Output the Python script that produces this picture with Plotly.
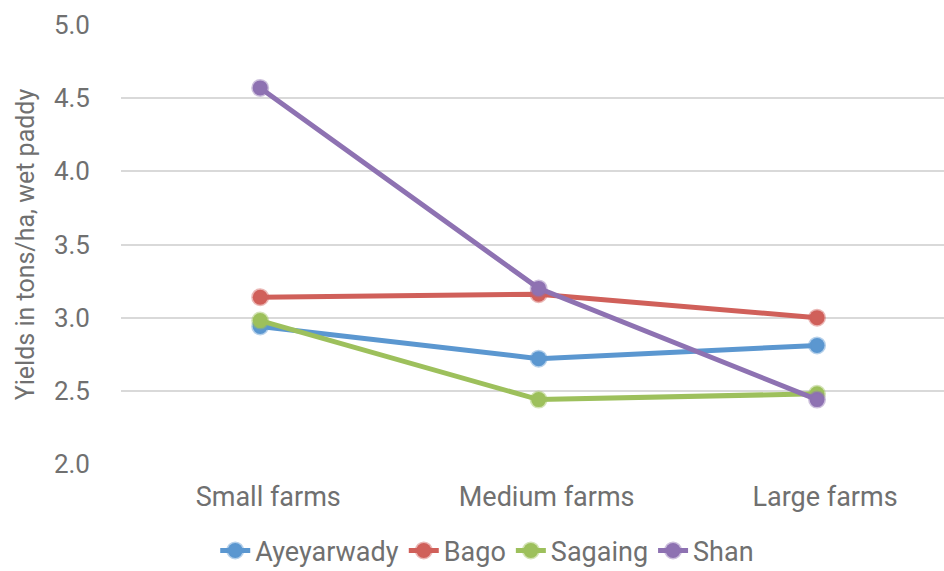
import plotly.graph_objects as go

categories = ["Small farms", "Medium farms", "Large farms"]
regions = ["Ayeyarwady", "Bago", "Sagaing", "Shan"]
ayeyarwady = [2.94, 2.72, 2.81]
bago = [3.14, 3.16, 3.00]
sagaing = [2.98, 2.44, 2.48]
shan = [4.57, 3.20, 2.44]
y_ticks = [2.0, 2.5, 3.0, 3.5, 4.0, 4.5, 5.0]

series = [ayeyarwady, bago, sagaing, shan]
colors = ["#5b97d0", "#d0605a", "#9dc05c", "#8e72b2"]
halos = ["rgba(91,151,208,0.45)", "rgba(208,96,90,0.45)",
         "rgba(157,192,92,0.45)", "rgba(142,114,178,0.45)"]

FONT = "Roboto"
GREY = "#707070"

fig = go.Figure()
for name, vals, col, halo in zip(regions, series, colors, halos):
    fig.add_trace(go.Scatter(
        x=categories, y=vals, name=name, mode="lines+markers",
        line=dict(color=col, width=5),
        marker=dict(symbol="circle", size=15, color=col,
                    line=dict(color=halo, width=3)),
        cliponaxis=False,
    ))

fig.update_layout(
    width=944, height=571,
    margin=dict(l=121, r=0, t=25, b=107, autoexpand=False),
    paper_bgcolor="white", plot_bgcolor="white",
    font=dict(family=FONT, color=GREY, size=26),
    showlegend=True,
    legend=dict(orientation="h", x=0.445, xanchor="center",
                y=-0.198, yanchor="middle",
                font=dict(size=27, color=GREY),
                itemwidth=30, tracegroupgap=0),
    xaxis=dict(type="category", range=[-0.5, 2.456], automargin=False,
               showgrid=False, zeroline=False, showline=False,
               ticks="", ticklabelshift=8, ticklabelstandoff=14,
               tickfont=dict(size=27, color=GREY)),
    yaxis=dict(range=[2.0, 5.0], tickvals=y_ticks, automargin=False,
               ticktext=[f"{v:.1f}" for v in y_ticks],
               showgrid=True, gridcolor="#d9d9d9", gridwidth=2,
               zeroline=False, showline=False, ticks="",
               ticklabelstandoff=30,
               tickfont=dict(size=26, color=GREY),
               title=dict(text="Yields in tons/ha, wet paddy",
                          font=dict(size=25, color=GREY), standoff=12)),
)

fig.write_html("out.html")
